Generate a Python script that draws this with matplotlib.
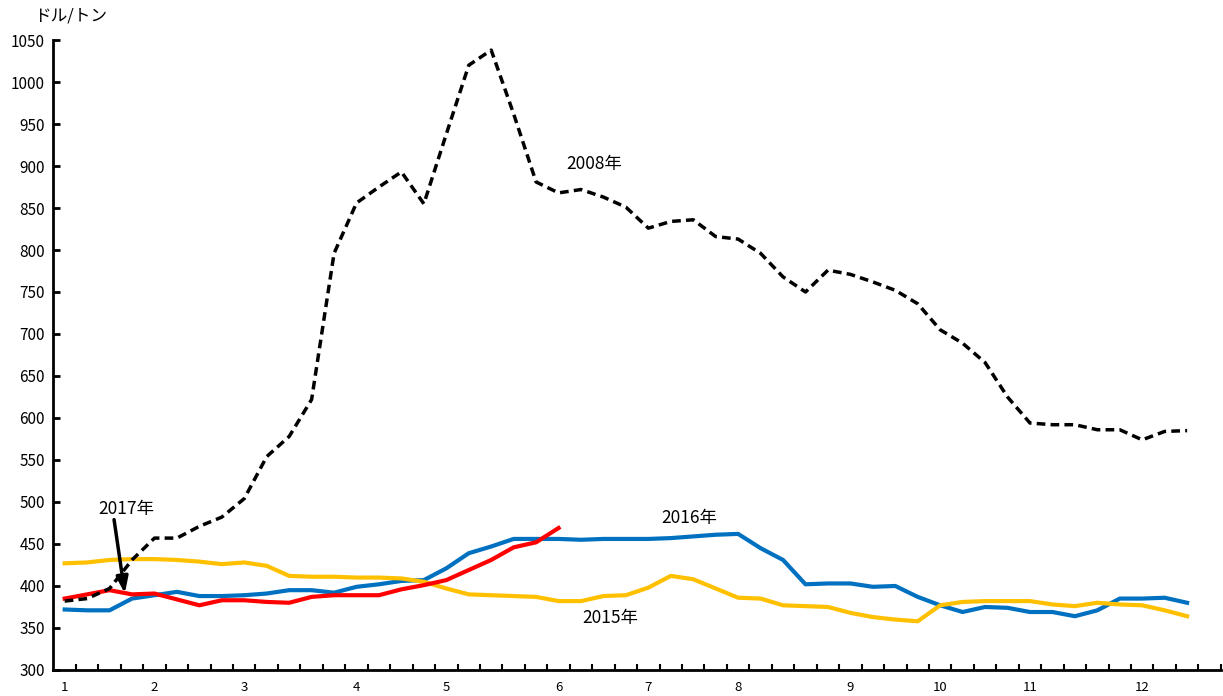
import matplotlib.pyplot as plt

# weekly prices, dollars per ton
y2008 = [382, 385, 397, 431, 457, 457, 471, 482, 504, 554, 578, 622, 796, 856, 875, 893,
         855, 938, 1020, 1038, 962, 881, 868, 872, 863, 851, 826, 834, 836, 816, 813,
         796, 768, 750, 776, 771, 762, 752, 736, 705, 689, 666, 625, 594, 592, 592,
         586, 586, 574, 584, 585]
y2015 = [427, 428, 431, 432, 432, 431, 429, 426, 428, 424, 412, 411, 411, 410, 410, 409,
         405, 397, 390, 389, 388, 387, 382, 382, 388, 389, 398, 412, 408, 397, 386,
         385, 377, 376, 375, 368, 363, 360, 358, 377, 381, 382, 382, 382, 378, 376,
         380, 378, 377, 371, 364]
y2016 = [372, 371, 371, 385, 389, 393, 388, 388, 389, 391, 395, 395, 392, 399, 402, 406,
         407, 421, 439, 447, 456, 456, 456, 455, 456, 456, 456, 457, 459, 461, 462,
         445, 431, 402, 403, 403, 399, 400, 387, 377, 369, 375, 374, 369, 369, 364,
         371, 385, 385, 386, 380]
y2017 = [385, 390, 395, 390, 391, 384, 377, 383, 383, 381, 380, 387, 389, 389, 389, 396,
         401, 407, 419, 431, 446, 452, 469]

month_labels = ['1', '2', '3', '4', '5', '6', '7', '8', '9', '10', '11', '12']
month_pos = [0, 4, 8, 13, 17, 22, 26, 30, 35, 39, 43, 48]
n_weeks = 52

plt.rcParams['font.family'] = ['Liberation Sans Narrow', 'Noto Sans CJK JP', 'DejaVu Sans']

fig = plt.figure(figsize=(12.23, 6.96), dpi=100)
ax = fig.add_axes([0.0437, 0.0374, 0.9545, 0.9051])

ax.plot(range(len(y2016)), y2016, color='#0070C0', lw=3, zorder=2)
ax.plot(range(len(y2015)), y2015, color='#FFC000', lw=3, zorder=3)
ax.plot(range(len(y2017)), y2017, color='#FF0000', lw=3, zorder=4)
ax.plot(range(len(y2008)), y2008, color='black', lw=2.5, linestyle=(0, (2.5, 1.5)), zorder=5)

ax.set_xlim(-0.5, n_weeks - 0.5)
ax.set_ylim(300, 1050)
ax.set_yticks(range(300, 1051, 50))
ax.set_xticks(month_pos)
ax.set_xticklabels(month_labels)
ax.set_xticks([i + 0.5 for i in range(n_weeks)], minor=True)
ax.tick_params(axis='x', which='major', length=0, pad=8, labelsize=9.5)
ax.tick_params(axis='x', which='minor', direction='in', length=4, width=1.5)
ax.tick_params(axis='y', direction='in', length=5, width=2, labelsize=11, pad=6)

for s in ['top', 'right']:
    ax.spines[s].set_visible(False)
for s in ['left', 'bottom']:
    ax.spines[s].set_linewidth(2)

# series labels
ax.text(23.6, 902, '2008年', fontsize=12.5, ha='center', va='center',
        family=['Noto Sans CJK JP'])
ax.text(27.8, 481, '2016年', fontsize=12.5, ha='center', va='center',
        family=['Noto Sans CJK JP'])
ax.text(24.3, 362, '2015年', fontsize=12.5, ha='center', va='center',
        family=['Noto Sans CJK JP'])
ax.text(2.75, 492, '2017年', fontsize=12.5, ha='center', va='center',
        family=['Noto Sans CJK JP'])
ax.annotate('', xy=(2.68, 391), xytext=(2.2, 479),
            arrowprops=dict(arrowstyle='-|>,head_length=0.7,head_width=0.25',
                            color='black', lw=2.5, mutation_scale=14,
                            shrinkA=0, shrinkB=0))

fig.text(0.028, 0.977, 'ドル/トン', fontsize=12, ha='left', va='center',
         family=['Noto Sans CJK JP'])

fig.savefig('out.png', dpi=100)
